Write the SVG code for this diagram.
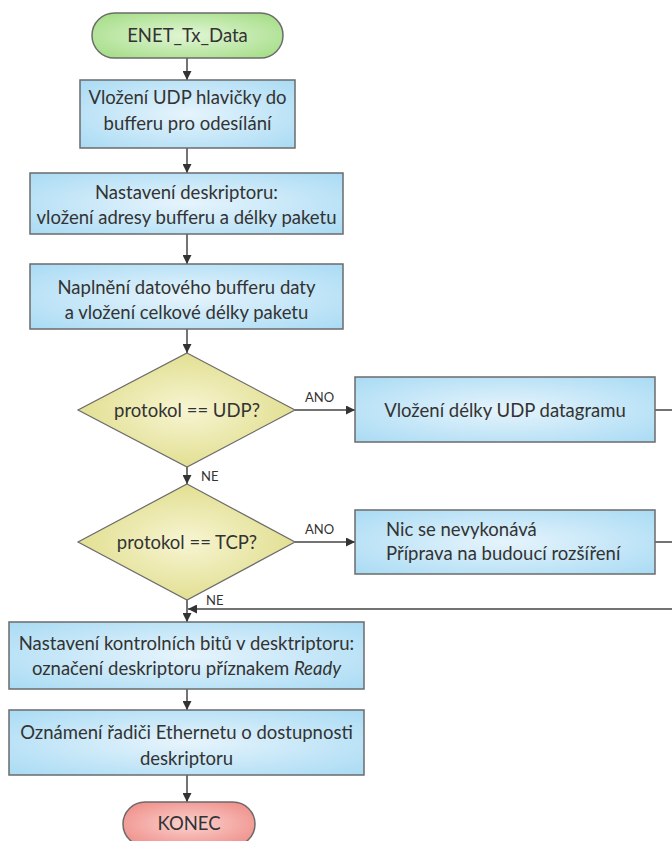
<svg xmlns="http://www.w3.org/2000/svg" width="672" height="841" viewBox="0 0 672 841">
  <defs>
    <radialGradient id="gBox" cx="50%" cy="50%" r="70%">
      <stop offset="0" stop-color="#e6f4fc"/>
      <stop offset="1" stop-color="#a9dbf4"/>
    </radialGradient>
    <radialGradient id="gDec" cx="50%" cy="50%" r="60%">
      <stop offset="0" stop-color="#f7f5d2"/>
      <stop offset="1" stop-color="#dedb86"/>
    </radialGradient>
    <radialGradient id="gStart" cx="50%" cy="50%" r="65%">
      <stop offset="0" stop-color="#e2f6d6"/>
      <stop offset="1" stop-color="#a4dd86"/>
    </radialGradient>
    <radialGradient id="gEnd" cx="50%" cy="50%" r="65%">
      <stop offset="0" stop-color="#fbd2cf"/>
      <stop offset="1" stop-color="#ef8c86"/>
    </radialGradient>
    <marker id="arr" viewBox="0 0 10 10" refX="10" refY="5" markerWidth="9" markerHeight="9" markerUnits="userSpaceOnUse" orient="auto">
      <path d="M0,0 L10,5 L0,10 Z" fill="#333"/>
    </marker>
  </defs>
  <style>
    .box { fill: url(#gBox); stroke: #6b6b6b; stroke-width: 1.5; }
    .dec { fill: url(#gDec); stroke: #6b6b6b; stroke-width: 1.2; }
    .start { fill: url(#gStart); stroke: #6b6b6b; stroke-width: 1.5; }
    .end { fill: url(#gEnd); stroke: #6b6b6b; stroke-width: 1.5; }
    text { font-family: Lato, "Open Sans", "Liberation Sans", sans-serif; font-size: 18.5px; fill: #333; }
    .c { text-anchor: middle; }
    .lbl { font-size: 13px; }
    .con line, .con path { stroke: #444; stroke-width: 1.5; fill: none; }
  </style>

  <!-- connectors -->
  <g id="connectors" class="con">
    <line x1="187" y1="58" x2="187" y2="80" marker-end="url(#arr)"/>
    <line x1="187" y1="148" x2="187" y2="173" marker-end="url(#arr)"/>
    <line x1="187" y1="234" x2="187" y2="264" marker-end="url(#arr)"/>
    <line x1="187" y1="329" x2="187" y2="353" marker-end="url(#arr)"/>
    <line x1="295" y1="410" x2="355" y2="410" marker-end="url(#arr)"/>
    <line x1="655" y1="410" x2="672" y2="410"/>
    <line x1="187" y1="467" x2="187" y2="484" marker-end="url(#arr)"/>
    <line x1="295" y1="542" x2="355" y2="542" marker-end="url(#arr)"/>
    <line x1="655" y1="542" x2="672" y2="542"/>
    <line x1="672" y1="609" x2="188" y2="609" marker-end="url(#arr)"/>
    <line x1="187" y1="600" x2="187" y2="622" marker-end="url(#arr)"/>
    <line x1="187" y1="689" x2="187" y2="710" marker-end="url(#arr)"/>
    <line x1="187" y1="775" x2="187" y2="802" marker-end="url(#arr)"/>
    <text class="lbl" x="305" y="402">ANO</text>
    <text class="lbl" x="201" y="481">NE</text>
    <text class="lbl" x="305" y="534">ANO</text>
    <text class="lbl" x="206" y="605">NE</text>
  </g>

  <g id="start">
    <rect class="start" x="92" y="13" width="191" height="45" rx="22.5"/>
    <text class="c" x="187.5" y="42">ENET_Tx_Data</text>
  </g>

  <g id="udp-header">
    <rect class="box" x="80" y="80" width="215" height="68"/>
    <text class="c" x="187.5" y="104">Vložení UDP hlavičky do</text>
    <text class="c" x="187.5" y="130">bufferu pro odesílání</text>
  </g>

  <g id="descriptor">
    <rect class="box" x="30" y="173" width="313" height="61"/>
    <text class="c" x="186.5" y="198.5">Nastavení deskriptoru:</text>
    <text class="c" x="186.5" y="223.5">vložení adresy bufferu a délky paketu</text>
  </g>

  <g id="fill-buffer">
    <rect class="box" x="30" y="264" width="313" height="65"/>
    <text class="c" x="186.5" y="293.5">Naplnění datového bufferu daty</text>
    <text class="c" x="186.5" y="318.5">a vložení celkové délky paketu</text>
  </g>

  <g id="is-udp">
    <polygon class="dec" points="187,353 295,410 187,467 78,410"/>
    <text class="c" x="187" y="416.5">protokol == UDP?</text>
  </g>

  <g id="udp-length">
    <rect class="box" x="355" y="377" width="300" height="65"/>
    <text class="c" x="505" y="416.5">Vložení délky UDP datagramu</text>
  </g>

  <g id="is-tcp">
    <polygon class="dec" points="187,484 295,542 187,600 78,542"/>
    <text class="c" x="187" y="548.5">protokol == TCP?</text>
  </g>

  <g id="tcp-noop">
    <rect class="box" x="355" y="510" width="300" height="64"/>
    <text x="386" y="535.5">Nic se nevykonává</text>
    <text x="386" y="559.5">Příprava na budoucí rozšíření</text>
  </g>

  <g id="control-bits">
    <rect class="box" x="9" y="622" width="355" height="67"/>
    <text class="c" x="186.5" y="649.5">Nastavení kontrolních bitů v desktriptoru:</text>
    <text class="c" x="186.5" y="674.5">označení deskriptoru příznakem <tspan font-style="italic">Ready</tspan></text>
  </g>

  <g id="notify">
    <rect class="box" x="9" y="710" width="355" height="65"/>
    <text class="c" x="186.5" y="738.5">Oznámení řadiči Ethernetu o dostupnosti</text>
    <text class="c" x="186.5" y="764.5">deskriptoru</text>
  </g>

  <g id="end">
    <rect class="end" x="123" y="802" width="132" height="44" rx="22"/>
    <text class="c" x="189" y="830">KONEC</text>
  </g>
</svg>
